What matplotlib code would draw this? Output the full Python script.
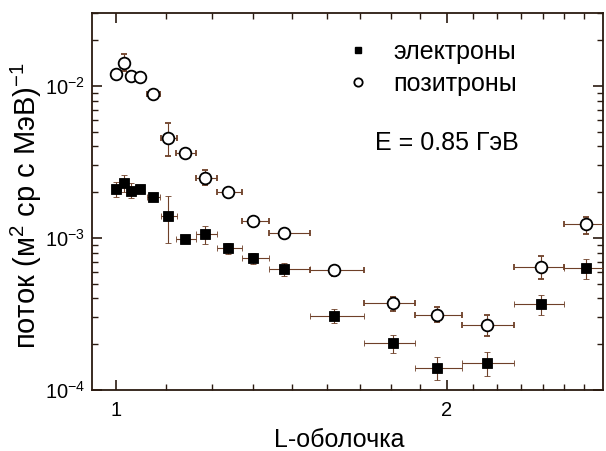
import numpy as np
import matplotlib
matplotlib.use("Agg")
import matplotlib.pyplot as plt
from matplotlib.ticker import FixedLocator, FixedFormatter, NullFormatter, LogLocator
from matplotlib.lines import Line2D

plt.rcParams['font.family'] = ['Liberation Sans', 'DejaVu Sans']
plt.rcParams['mathtext.fontset'] = 'custom'
plt.rcParams['mathtext.rm'] = 'Liberation Sans'
plt.rcParams['mathtext.it'] = 'Liberation Sans:italic'
plt.rcParams['mathtext.bf'] = 'Liberation Sans:bold'

# ---- data ----
L = [1.000, 1.016, 1.031, 1.051, 1.080, 1.114, 1.155, 1.205, 1.265, 1.333,
     1.421, 1.578, 1.787, 1.960, 2.173, 2.437, 2.675]
L_lo = [0.992, 1.008, 1.023, 1.043, 1.068, 1.099, 1.134, 1.182, 1.235, 1.301,
        1.379, 1.502, 1.681, 1.872, 2.066, 2.302, 2.557]
L_hi = [1.010, 1.024, 1.039, 1.059, 1.097, 1.136, 1.182, 1.235, 1.301, 1.379,
        1.502, 1.681, 1.872, 2.066, 2.302, 2.557, 2.810]

e_flux = [2.09e-3, 2.29e-3, 2.05e-3, 2.10e-3, 1.87e-3, 1.40e-3, 9.85e-4, 1.06e-3,
          8.55e-4, 7.35e-4, 6.22e-4, 3.08e-4, 2.05e-4, 1.39e-4, 1.50e-4, 3.68e-4, 6.38e-4]
e_hi = [2.32e-3, 2.59e-3, 2.29e-3, 2.22e-3, 1.95e-3, 1.90e-3, 1.03e-3, 1.20e-3,
        9.3e-4, 8.0e-4, 6.8e-4, 3.4e-4, 2.3e-4, 1.64e-4, 1.77e-4, 4.2e-4, 7.25e-4]
e_lo = [1.86e-3, 2.00e-3, 1.84e-3, 1.98e-3, 1.79e-3, 9.3e-4, 9.4e-4, 9.1e-4,
        7.9e-4, 6.7e-4, 5.6e-4, 2.75e-4, 1.75e-4, 1.17e-4, 1.24e-4, 3.1e-4, 5.4e-4]

p_flux = [1.20e-2, 1.42e-2, 1.17e-2, 1.15e-2, 8.86e-3, 4.57e-3, 3.64e-3, 2.49e-3,
          2.02e-3, 1.30e-3, 1.08e-3, 6.15e-4, 3.72e-4, 3.11e-4, 2.68e-4, 6.41e-4, 1.24e-3]
p_hi = [1.24e-2, 1.62e-2, 1.21e-2, 1.19e-2, 9.2e-3, 5.74e-3, 3.8e-3, 2.8e-3,
        2.12e-3, 1.38e-3, 1.13e-3, 6.5e-4, 4.1e-4, 3.5e-4, 3.1e-4, 7.6e-4, 1.37e-3]
p_lo = [1.16e-2, 1.25e-2, 1.13e-2, 1.11e-2, 8.5e-3, 3.46e-3, 3.5e-3, 2.22e-3,
        1.92e-3, 1.22e-3, 1.03e-3, 5.6e-4, 3.3e-4, 2.8e-4, 2.27e-4, 5.4e-4, 1.07e-3]

labels = ['электроны', 'позитроны']
x_major = [1, 2]
x_major_labels = ['1', '2']
y_major = [1e-4, 1e-3, 1e-2]
y_major_labels = ['$10^{-4}$', '$10^{-3}$', '$10^{-2}$']

# ---- figure ----
fig = plt.figure(figsize=(6.06, 4.51), dpi=100)
ax = fig.add_axes([92/606, 1-390/451, (603-92)/606, (390-13)/451])
ax.set_xscale('log')
ax.set_yscale('log')

Ln = np.array(L)
xerr = [Ln - np.array(L_lo), np.array(L_hi) - Ln]
ecol = '#6e4028'
axcol = '#2a1a10'

ef = np.array(e_flux)
ax.errorbar(Ln, ef, xerr=xerr, yerr=[ef - np.array(e_lo), np.array(e_hi) - ef],
            fmt='s', ms=6.6, mfc='black', mec='black', mew=0.6,
            ecolor=ecol, elinewidth=0.8, capsize=2.5, capthick=0.8, zorder=3)
pf = np.array(p_flux)
ax.errorbar(Ln, pf, xerr=xerr, yerr=[pf - np.array(p_lo), np.array(p_hi) - pf],
            fmt='o', ms=8.4, mfc='white', mec='black', mew=1.3,
            ecolor=ecol, elinewidth=0.8, capsize=2.5, capthick=0.8, zorder=3)

ax.set_xlim(0.951, 2.773)
ax.set_ylim(1e-4, 3.02e-2)

ax.xaxis.set_major_locator(FixedLocator(x_major))
ax.xaxis.set_major_formatter(FixedFormatter(x_major_labels))
minor_x = [1 + k/9 for k in range(1, 9)] + [2 + k/9 for k in range(1, 8)]
ax.xaxis.set_minor_locator(FixedLocator(minor_x))
ax.xaxis.set_minor_formatter(NullFormatter())

ax.yaxis.set_major_locator(FixedLocator(y_major))
ax.yaxis.set_major_formatter(FixedFormatter(y_major_labels))
ax.yaxis.set_minor_locator(LogLocator(base=10, subs=np.arange(2, 10), numticks=20))
ax.yaxis.set_minor_formatter(NullFormatter())

for s in ax.spines.values():
    s.set_color(axcol)
    s.set_linewidth(1.3)
ax.tick_params(which='both', direction='in', top=True, right=True, color=axcol)
ax.tick_params(which='major', length=7, width=1.2, labelsize=14.5)
ax.tick_params(axis='y', which='major', pad=5)
ax.tick_params(axis='x', which='major', pad=8)
ax.tick_params(which='minor', length=4, width=1.0)

ax.set_xlabel('L-оболочка', fontsize=18)
ax.xaxis.set_label_coords((339-92)/511, -0.1)
ax.set_ylabel('поток (м$^{2}$ ср с МэВ)$^{-1}$', fontsize=21)
ax.yaxis.set_label_coords(-0.094, 0.49)

handles = [Line2D([], [], ls='none', marker='s', ms=5, mfc='black', mec='black'),
           Line2D([], [], ls='none', marker='o', ms=6, mfc='white', mec='black', mew=1.3)]
ax.legend(handles, labels, loc='upper left', bbox_to_anchor=((345.5-92)/511, 0.928),
          frameon=False, fontsize=18, handlelength=1.0, handletextpad=0.9,
          labelspacing=0.3, borderpad=0, borderaxespad=0)

ax.text((375-92)/511, 1 - (143-13)/377, 'E = 0.85 ГэВ', transform=ax.transAxes,
        fontsize=18, ha='left', va='center')

fig.savefig('out.png', dpi=100)
